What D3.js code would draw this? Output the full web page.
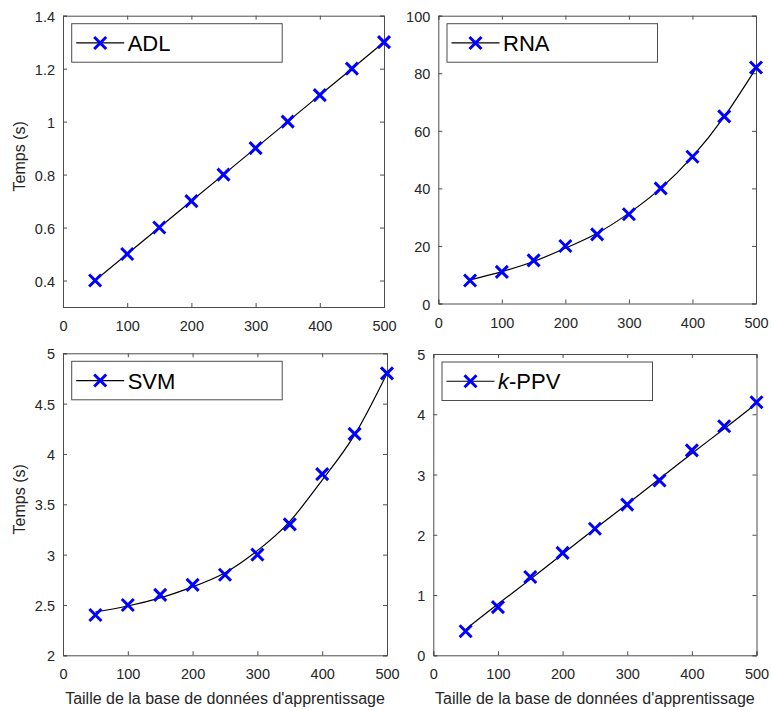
<!DOCTYPE html>
<html>
<head>
<meta charset="utf-8">
<script src="https://cdn.jsdelivr.net/npm/d3@7"></script>
<style>
  html, body { margin: 0; padding: 0; background: #fff; }
  svg { display: block; font-family: "Liberation Sans", Arial, Helvetica, sans-serif; }
</style>
</head>
<body>
<svg id="chart" width="771" height="711"></svg>
<script>
// ---- data ----
const sizes = [50, 100, 150, 200, 250, 300, 350, 400, 450, 500];
const xTicks = [0, 100, 200, 300, 400, 500];

const adlTimes = [0.4, 0.5, 0.6, 0.7, 0.8, 0.9, 1.0, 1.1, 1.2, 1.3];
const adlFit   = [0.4, 0.5, 0.6, 0.7, 0.8, 0.9, 1.0, 1.1, 1.2, 1.3];
const adlTicks = [0.4, 0.6, 0.8, 1, 1.2, 1.4];

const rnaTimes = [8, 11, 15, 20, 24, 31, 40, 51, 65, 82];
const rnaFit   = [8.2, 11.1, 14.6, 19.2, 24.4, 31.4, 40.0, 51.0, 64.9, 81.7];
const rnaTicks = [0, 20, 40, 60, 80, 100];

const svmTimes = [2.4, 2.5, 2.6, 2.7, 2.8, 3.0, 3.3, 3.8, 4.2, 4.8];
const svmFit   = [2.43, 2.49, 2.57, 2.68, 2.82, 3.04, 3.33, 3.74, 4.19, 4.80];
const svmTicks = [2, 2.5, 3, 3.5, 4, 4.5, 5];

const kppvTimes = [0.4, 0.8, 1.3, 1.7, 2.1, 2.5, 2.9, 3.4, 3.8, 4.2];
const kppvFit   = [0.43, 0.85, 1.26, 1.68, 2.10, 2.51, 2.93, 3.35, 3.76, 4.18];
const kppvTicks = [0, 1, 2, 3, 4, 5];

const yLabel = "Temps (s)";
const xLabel = "Taille de la base de données d'apprentissage";

// ---- layout ----
const panels = [
  { name: "ADL", times: adlTimes, fit: adlFit, ticks: adlTicks, ydom: [0.3, 1.4],
    box: { x0: 63, x1: 384, y0: 15.7, y1: 307 }, ylab: true, xlab: false },
  { name: "RNA", times: rnaTimes, fit: rnaFit, ticks: rnaTicks, ydom: [0, 100],
    box: { x0: 438.3, x1: 756, y0: 15.7, y1: 303.5 }, ylab: false, xlab: false },
  { name: "SVM", times: svmTimes, fit: svmFit, ticks: svmTicks, ydom: [2, 5],
    box: { x0: 63, x1: 387, y0: 353.3, y1: 655.3 }, ylab: true, xlab: true },
  { name: "k-PPV", italicPrefix: "k", times: kppvTimes, fit: kppvFit, ticks: kppvTicks, ydom: [0, 5],
    box: { x0: 433.3, x1: 756.5, y0: 354, y1: 655.3 }, ylab: false, xlab: true }
];

const svg = d3.select("#chart");
const axisColor = "#4d4d4d";
const textColor = "#262626";
const tickLen = 4;
const blue = "#0000ff";

function xMarker(g, cx, cy, r) {
  g.append("path")
    .attr("d", `M${cx - r},${cy - r}L${cx + r},${cy + r}M${cx - r},${cy + r}L${cx + r},${cy - r}`)
    .attr("stroke", blue).attr("stroke-width", 3).attr("fill", "none");
}

panels.forEach(p => {
  const b = p.box;
  const x = d3.scaleLinear().domain([0, 500]).range([b.x0, b.x1]);
  const y = d3.scaleLinear().domain(p.ydom).range([b.y1, b.y0]);
  const g = svg.append("g");

  // white background
  g.append("rect").attr("x", b.x0).attr("y", b.y0)
    .attr("width", b.x1 - b.x0).attr("height", b.y1 - b.y0).attr("fill", "#fff");

  // axes with ticks (bottom/left labelled, top/right mirrored), ticks inward
  const fmt = d => String(d);
  const axB = g.append("g").attr("transform", `translate(0,${b.y1})`)
    .call(d3.axisBottom(x).tickValues(xTicks).tickSize(-tickLen).tickPadding(10).tickFormat(fmt));
  const axT = g.append("g").attr("transform", `translate(0,${b.y0})`)
    .call(d3.axisTop(x).tickValues(xTicks).tickSize(-tickLen).tickFormat(""));
  const axL = g.append("g").attr("transform", `translate(${b.x0},0)`)
    .call(d3.axisLeft(y).tickValues(p.ticks).tickSize(-tickLen).tickPadding(8).tickFormat(fmt));
  const axR = g.append("g").attr("transform", `translate(${b.x1},0)`)
    .call(d3.axisRight(y).tickValues(p.ticks).tickSize(-tickLen).tickFormat(""));

  [axB, axT, axL, axR].forEach(a => {
    a.select(".domain").attr("stroke", axisColor).attr("stroke-width", 1);
    a.selectAll(".tick line").attr("stroke", axisColor).attr("stroke-width", 1);
    a.selectAll(".tick text").attr("fill", textColor).style("font-size", "14.5px")
      .style("font-family", '"Liberation Sans", Arial, Helvetica, sans-serif');
  });
  axB.selectAll(".tick text").attr("dy", null).attr("y", null)
    .attr("transform", null).attr("dominant-baseline", null)
    .attr("y", 24 - 0);
  axL.selectAll(".tick text").attr("dy", "0.38em");

  // fitted line
  const line = d3.line().x((d, i) => x(sizes[i])).y(d => y(d)).curve(d3.curveNatural);
  g.append("path").datum(p.fit).attr("d", line)
    .attr("fill", "none").attr("stroke", "#000").attr("stroke-width", 1.2);

  // markers
  p.times.forEach((v, i) => xMarker(g, x(sizes[i]), y(v), 6));

  // legend
  const lx = b.x0 + 8.7, ly = b.y0 + 8, lw = 210.5, lh = 38.5;
  g.append("rect").attr("x", lx).attr("y", ly).attr("width", lw).attr("height", lh)
    .attr("fill", "#fff").attr("stroke", axisColor).attr("stroke-width", 1);
  const cy = ly + lh / 2;
  g.append("line").attr("x1", lx + 4.5).attr("x2", lx + 52.5).attr("y1", cy).attr("y2", cy)
    .attr("stroke", "#000").attr("stroke-width", 1.2);
  xMarker(g, lx + 28.5, cy, 6);
  const t = g.append("text").attr("x", lx + 56).attr("y", cy + 8)
    .attr("fill", "#000").style("font-size", "22px");
  if (p.italicPrefix) {
    t.append("tspan").style("font-style", "italic").text(p.italicPrefix);
    t.append("tspan").text(p.name.slice(p.italicPrefix.length));
  } else {
    t.text(p.name);
  }

  // axis labels
  if (p.ylab) {
    const cyl = (b.y0 + b.y1) / 2 - 5;
    g.append("text").attr("transform", `translate(25,${cyl}) rotate(-90)`)
      .attr("text-anchor", "middle").attr("fill", textColor)
      .style("font-size", "16px").text(yLabel);
  }
  if (p.xlab) {
    g.append("text").attr("x", (b.x0 + b.x1) / 2).attr("y", 704)
      .attr("text-anchor", "middle").attr("fill", textColor)
      .style("font-size", "16px").text(xLabel);
  }
});
</script>
</body>
</html>
